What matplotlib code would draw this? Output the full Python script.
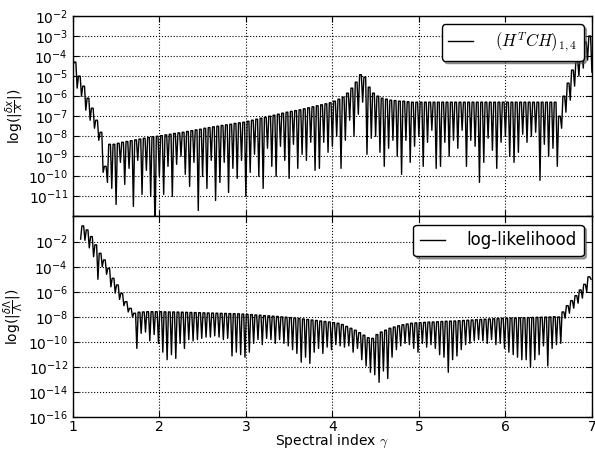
import numpy as np
import matplotlib
matplotlib.use("Agg")
import matplotlib.pyplot as plt
from matplotlib.ticker import FixedLocator, NullLocator

# --- data: log10 of the peak and the dip of each oscillation lobe ---
# upper panel: lobes of width 0.05 starting at gamma = 1.0
top_x0 = 1.0
top_step = 0.05
top_start = -4.5
top_peaks = [-4.3, -5.0, -5.5, -6.1, -6.6, -7.2, -7.8, -9.5, -8.4,
             -8.4, -8.35, -8.3, -8.26, -8.22, -8.18, -8.14, -8.1, -8.06, -8.02, -8.0,
             -7.97, -7.93, -7.9, -7.86, -7.83, -7.8, -7.76, -7.72, -7.68, -7.65,
             -7.6, -7.57, -7.53, -7.5, -7.46, -7.43, -7.4, -7.36, -7.33, -7.3,
             -7.25, -7.2, -7.15, -7.1, -7.05, -7.0, -6.95, -6.9, -6.85, -6.8,
             -6.76, -6.72, -6.68, -6.63, -6.58, -6.53, -6.48, -6.43, -6.38, -6.33,
             -6.25, -6.15, -6.05, -5.85, -5.6, -5.3, -4.93, -5.05, -5.55, -5.85,
             -6.0, -6.1, -6.15, -6.2, -6.22, -6.25, -6.25,
             -6.28, -6.3, -6.3, -6.3, -6.3, -6.3, -6.3,
             -6.3, -6.3, -6.3, -6.3, -6.3, -6.3, -6.3,
             -6.3, -6.3, -6.3, -6.3, -6.3, -6.3, -6.3,
             -6.3, -6.3, -6.3, -6.3, -6.3, -6.3, -6.3,
             -6.3, -6.3, -6.3, -6.3, -6.3, -6.3, -6.3,
             -7.0, -6.0, -5.35, -4.7, -4.2, -3.7, -3.3, -3.0]
top_dips = [-5.6, -6.0, -6.7, -7.2, -7.6, -8.2, -9.8, -10.3, -10.6,
            -11.4, -9.3, -10.4, -9.6, -11.5, -9.2, -10.9, -9.7, -11.0, -13.0, -10.0,
            -10.9, -9.5, -11.0, -9.4, -9.0, -9.9, -10.5, -9.3, -11.7, -10.0,
            -10.6, -9.2, -11.2, -10.3, -9.3, -10.8, -9.6, -10.1, -9.2, -11.0,
            -9.8, -8.9, -10.0, -10.6, -8.6, -9.5, -10.0, -8.5, -9.2, -10.1,
            -8.4, -9.6, -8.9, -9.2, -8.3, -9.7, -9.6, -8.3, -8.8, -8.5,
            -8.0, -9.6, -8.2, -7.2, -8.0, -6.9, -6.3, -8.9, -8.1, -8.0,
            -8.8, -9.5, -8.6, -8.2, -9.0, -9.9, -8.2,
            -9.3, -8.5, -8.0, -9.5, -8.3, -7.7, -9.6,
            -9.5, -8.3, -9.0, -8.2, -8.6, -7.7, -9.5,
            -8.2, -8.5, -10.3, -9.3, -8.1, -8.7, -9.6,
            -8.3, -8.0, -9.0, -9.3, -8.8, -7.9, -8.3,
            -8.0, -7.8, -10.2, -8.4, -9.0, -8.6, -9.5,
            -7.6, -6.8, -6.2, -5.5, -5.0, -4.6, -4.2, -4.8]

# lower panel: lobes of width 0.05 starting at gamma = 1.09
bot_x0 = 1.09
bot_step = 0.05
bot_start = -1.8
bot_peaks = [-0.75, -1.07, -1.6, -2.26, -2.93, -3.46, -4.12, -4.92, -5.45, -6.12, -6.78, -7.31,
             -7.7, -7.62, -7.6, -7.58, -7.58, -7.58,
             -7.58, -7.59, -7.6, -7.6, -7.61, -7.62, -7.63, -7.64, -7.65, -7.66,
             -7.67, -7.68, -7.69, -7.7, -7.71, -7.72, -7.73, -7.74, -7.75, -7.77,
             -7.79, -7.81, -7.84, -7.86, -7.89, -7.91, -7.94, -7.96, -7.99, -8.02,
             -8.05, -8.08, -8.12, -8.16, -8.2, -8.24, -8.28, -8.32, -8.36, -8.4,
             -8.45, -8.5, -8.6, -8.75, -8.9, -9.05, -9.25, -9.45, -9.65, -9.7,
             -9.4, -9.2, -9.05, -8.9, -8.8, -8.7, -8.62, -8.56, -8.5, -8.47,
             -8.45, -8.43, -8.41, -8.4, -8.38, -8.36, -8.34, -8.33, -8.32, -8.3,
             -8.28, -8.26, -8.24, -8.22, -8.2, -8.18, -8.16, -8.14, -8.12, -8.11,
             -8.1, -8.09, -8.08, -8.07, -8.06, -8.05, -8.04, -8.03, -8.02, -8.01, -8.0, -7.98,
             -8.0, -7.6, -7.1, -6.7, -6.3, -5.85, -5.4, -4.8]
bot_dips = [-1.9, -2.5, -3.2, -5.0, -4.0, -4.6, -5.6, -6.1, -6.6, -7.1, -7.6, -8.0,
            -10.5, -9.3, -9.2, -9.9, -9.4, -10.1,
            -10.8, -11.4, -11.0, -11.3, -10.1, -10.5, -9.8, -9.9, -9.8, -9.7,
            -9.6, -9.6, -9.5, -9.6, -9.8, -9.7, -11.1, -10.8, -11.0, -11.2,
            -10.8, -10.1, -9.8, -10.2, -9.7, -9.8, -10.1, -9.8, -10.1, -10.3,
            -10.6, -10.9, -11.6, -11.2, -11.7, -10.8, -10.5, -10.9, -10.4, -10.6,
            -10.2, -10.3, -10.4, -10.3, -10.8, -10.5, -11.4, -11.9, -12.4, -12.6,
            -13.2, -12.3, -12.9, -11.2, -10.6, -10.3, -10.1, -10.2, -10.5, -10.8,
            -10.1, -10.4, -10.2, -10.5, -11.0, -11.2, -12.4, -11.4, -11.1, -10.6,
            -10.2, -10.1, -9.9, -9.8, -9.9, -10.1, -9.8, -10.2, -10.1, -10.5,
            -10.8, -11.0, -11.2, -11.4, -11.4, -12.0, -11.4, -11.0, -10.3, -11.9, -10.5, -10.2,
            -10.1, -8.1, -7.7, -7.3, -6.9, -6.5, -6.0, -5.0]

top_label = r'$(H^TCH)_{1,4}$'
bot_label = 'log-likelihood'


def lobe_path(x0, step, start, peaks, dips):
    # each lobe: flat-ish top at its peak, then a narrow dip at its right edge
    xs = [x0]
    ys = [start]
    for i, (p, d) in enumerate(zip(peaks, dips)):
        left = x0 + i * step
        xs += [left + 0.3 * step, left + 0.7 * step, left + step]
        ys += [p, p, d]
    return np.array(xs), 10.0 ** np.array(ys)


def style_axis(ax, ylim, decades, labelled):
    ax.set_yscale('log')
    ax.set_xlim(1, 7)
    ax.set_ylim(ylim)
    ticks = [10.0 ** e for e in decades]
    ax.yaxis.set_major_locator(FixedLocator(ticks))
    ax.yaxis.set_minor_locator(NullLocator())
    ax.set_yticklabels([r'$10^{%d}$' % e if e in labelled else '' for e in decades])
    ax.set_xticks([1, 2, 3, 4, 5, 6, 7])
    ax.tick_params(direction='in', top=True, right=True, length=4, width=0.8,
                   labelsize=10)
    ax.tick_params(axis='x', pad=2)
    ax.grid(True, color='k', linestyle=':', linewidth=0.8)
    for s in ax.spines.values():
        s.set_linewidth(1.0)


fig = plt.figure(figsize=(5.95, 4.51), dpi=100)
ax1 = fig.add_axes([0.1224, 0.5200, 0.8724, 0.4446])
ax2 = fig.add_axes([0.1224, 0.0743, 0.8724, 0.4457], sharex=ax1)

x, y = lobe_path(top_x0, top_step, top_start, top_peaks, top_dips)
ax1.plot(x, y, color='k', linewidth=1.0, label=top_label)
x, y = lobe_path(bot_x0, bot_step, bot_start, bot_peaks, bot_dips)
ax2.plot(x, y, color='k', linewidth=1.0, label=bot_label)

style_axis(ax1, (1e-12, 1e-2), list(range(-12, -1)), list(range(-11, -1)))
style_axis(ax2, (1e-16, 1e0), list(range(-16, 1, 2)), list(range(-16, -1, 2)))
ax1.tick_params(labelbottom=False)
ax2.set_xticklabels(['1', '2', '3', '4', '5', '6', '7'])

ax1.set_ylabel(r'log($|\frac{\delta x}{x}|$)', fontsize=10, labelpad=2)
ax2.set_ylabel(r'log($|\frac{\delta \Lambda}{\Lambda}|$)', fontsize=10, labelpad=2)
ax2.set_xlabel(r'Spectral index $\gamma$', fontsize=10, labelpad=-1)
ax2.xaxis.label.set_math_fontfamily('cm')

for ax in (ax1, ax2):
    leg = ax.legend(loc='upper right', shadow=True, fancybox=True, fontsize=12,
                    handlelength=1.5, handletextpad=1.3, borderaxespad=0.5)
    leg.get_frame().set_edgecolor('k')
    leg.get_frame().set_linewidth(1.0)
    leg.get_frame().set_alpha(1.0)
    for t in leg.get_texts():
        t.set_math_fontfamily('cm')

fig.savefig('out.png', dpi=100)
